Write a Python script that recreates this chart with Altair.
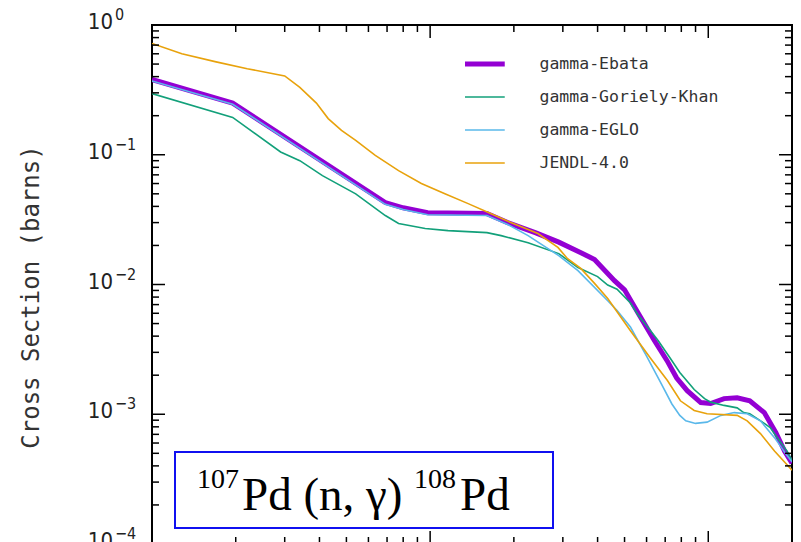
import math

import altair as alt
import pandas as pd

# Neutron capture cross sections for 107Pd(n,g)108Pd, energy in MeV, sigma in barns
ebata_e = [0.1, 0.195, 0.69, 0.8, 0.98, 1.6, 1.9, 2.4, 2.9, 3.5, 3.9, 4.6, 5.0, 5.6,
           6.4, 7.1, 7.7, 8.4, 9.4, 10.2, 11.4, 12.7, 14.1, 15.9, 17.5, 18.8, 20.0]
ebata_xs = [0.38, 0.25, 0.0428, 0.039, 0.0358, 0.0352, 0.030, 0.025, 0.0212, 0.0175,
            0.0156, 0.0107, 0.0091, 0.0060, 0.0037, 0.0026, 0.0019, 0.00152, 0.00123,
            0.00121, 0.00132, 0.00134, 0.00127, 0.00103, 0.00072, 0.00052, 0.00042]

gk_e = [0.1, 0.195, 0.29, 0.34, 0.41, 0.54, 0.69, 0.77, 0.96, 1.16, 1.6, 1.8, 2.25, 2.9,
        3.4, 4.0, 4.35, 4.7, 5.25, 5.6, 6.2, 6.6, 7.3, 7.9, 8.9, 9.7, 10.2, 11.4, 12.7,
        13.4, 14.1, 15.9, 16.7, 17.7, 19.2, 20.0]
gk_xs = [0.296, 0.194, 0.105, 0.090, 0.069, 0.050, 0.034, 0.0295, 0.027, 0.026, 0.0251,
         0.0238, 0.021, 0.0173, 0.0135, 0.0115, 0.0099, 0.0092, 0.0072, 0.0058, 0.0044,
         0.0037, 0.0027, 0.0021, 0.00155, 0.00132, 0.00124, 0.00117, 0.00112, 0.00103,
         0.00101, 0.00085, 0.00079, 0.00066, 0.00052, 0.00044]

eglo_e = [0.1, 0.195, 0.69, 0.8, 0.98, 1.6, 1.9, 2.25, 2.9, 3.4, 4.35, 4.7, 5.25, 6.0,
          6.7, 7.4, 7.9, 8.3, 9.0, 9.9, 11.1, 12.4, 13.8, 15.4, 17.3, 19.2, 20.0]
eglo_xs = [0.37, 0.245, 0.0415, 0.0378, 0.0345, 0.034, 0.029, 0.0238, 0.0167, 0.0128,
           0.0075, 0.0063, 0.0047, 0.0028, 0.0018, 0.0012, 0.00098, 0.00089, 0.00085,
           0.00087, 0.00098, 0.00103, 0.00101, 0.00089, 0.00066, 0.00048, 0.00043]

jendl_e = [0.1, 0.128, 0.17, 0.22, 0.30, 0.34, 0.39, 0.43, 0.48, 0.54, 0.635, 0.77, 0.93,
           1.13, 1.37, 1.65, 1.95, 2.44, 2.88, 3.12, 3.48, 3.9, 4.35, 5.25, 6.2, 7.13,
           7.94, 8.9, 9.9, 12.7, 13.8, 15.4, 17.3, 20.0]
jendl_xs = [0.72, 0.60, 0.52, 0.46, 0.405, 0.33, 0.25, 0.19, 0.154, 0.129, 0.099, 0.0755,
            0.060, 0.050, 0.042, 0.0352, 0.030, 0.0247, 0.0193, 0.0158, 0.0133, 0.0102,
            0.0078, 0.0044, 0.0027, 0.00182, 0.00127, 0.00107, 0.00101, 0.00098, 0.00089,
            0.00071, 0.00052, 0.00037]

series_names = ["gamma-Ebata", "gamma-Goriely-Khan", "gamma-EGLO", "JENDL-4.0"]
series_colors = ["#9400d3", "#12a07a", "#5ab8ea", "#e8a20c"]
y_title = "Cross  Section  (barns)"

# axis ticks
y_major = [1.0, 0.1, 0.01, 0.001, 0.0001]
y_minor = [m * 10.0 ** e for e in range(-4, 0) for m in range(2, 10)]
x_major = [1.0, 10.0]
x_minor = [m * 10.0 ** e for e in (-1, 0) for m in range(2, 10)]
y_grid = [0.1, 0.01, 0.001]
x_grid = [1.0, 10.0]

W, H = 640, 519
MONO = "DejaVu Sans Mono"
NARROW = "Liberation Sans Narrow, DejaVu Sans Condensed, Liberation Sans, sans-serif"

frames = []
for name, es, xs in zip(series_names, [ebata_e, gk_e, eglo_e, jendl_e],
                        [ebata_xs, gk_xs, eglo_xs, jendl_xs]):
    frames.append(pd.DataFrame({"series": name, "energy": es, "xs": xs}))
curves = pd.concat(frames, ignore_index=True)

xscale = alt.Scale(type="log", domain=[0.1, 20], nice=False)
yscale = alt.Scale(type="log", domain=[1e-4, 1], nice=False)

legend = alt.Legend(
    title="\u00a0" * 53,
    titleOrient="bottom",
    titleFont=MONO,
    titleFontSize=10,
    titlePadding=3,
    titleLimit=700,
    orient="none",
    legendX=303,
    legendY=19,
    fillColor="white",
    padding=10,
    clipHeight=20,
    rowPadding=13,
    symbolType="stroke",
    symbolSize=3969,
    symbolStrokeWidth=alt.ExprRef("datum.value === 'gamma-Ebata' ? 5 : 1.6"),
    labelFont=MONO,
    labelFontSize=16.5,
    labelColor="#333333",
    labelOffset=58,
    labelLimit=400,
)

lines = alt.Chart(curves).mark_line(clip=True).encode(
    x=alt.X("energy:Q", scale=xscale,
            axis=alt.Axis(values=x_grid, grid=True, labels=False, ticks=False,
                          domain=False, title=None, gridColor="#c8c8c8", gridWidth=1.6)),
    y=alt.Y("xs:Q", scale=yscale,
            axis=alt.Axis(values=y_grid, grid=True, labels=False, ticks=False,
                          domain=False, title=None, gridColor="#c8c8c8",
                          gridWidth=1.6)),
    color=alt.Color("series:N", scale=alt.Scale(domain=series_names, range=series_colors),
                    sort=series_names, legend=legend),
    strokeWidth=alt.condition("datum.series === 'gamma-Ebata'", alt.value(5),
                              alt.value(1.6)),
    order=alt.Order("energy:Q"),
)


def y_ticks(values, length):
    df = pd.DataFrame({"yv": values})
    base = alt.Chart(df).mark_rule(color="black", strokeWidth=1.5)
    y = alt.Y("yv:Q", scale=yscale, axis=None)
    left = base.encode(y=y, x=alt.value(0), x2=alt.value(length))
    right = base.encode(y=y, x=alt.value(W), x2=alt.value(W - length))
    return [left, right]


def x_ticks(values, length):
    df = pd.DataFrame({"xv": values})
    base = alt.Chart(df).mark_rule(color="black", strokeWidth=1.5)
    x = alt.X("xv:Q", scale=xscale, axis=None)
    top = base.encode(x=x, y=alt.value(0), y2=alt.value(length))
    bottom = base.encode(x=x, y=alt.value(H), y2=alt.value(H - length))
    return [top, bottom]


tick_layers = (y_ticks(y_major, 13) + y_ticks(y_minor, 7)
               + x_ticks(x_major, 13) + x_ticks(x_minor, 7))

# y tick labels as 10 with a raised exponent
exp_df = pd.DataFrame({
    "v": y_major,
    "exp": [str(int(round(math.log10(v)))).replace("-", "\u2212") for v in y_major],
})
base_lbl = alt.Chart(exp_df).mark_text(
    text="10", font=NARROW, fontSize=22, color="#222222", align="right",
    baseline="middle", dy=-3,
).encode(y=alt.Y("v:Q", scale=yscale, axis=None), x=alt.value(-39))
exp_lbl = alt.Chart(exp_df).mark_text(
    font=NARROW, fontSize=16, color="#222222", align="left", baseline="middle", dy=-10,
).encode(y=alt.Y("v:Q", scale=yscale, axis=None), x=alt.value(-37), text="exp:N")

one = pd.DataFrame({"k": [0]})

# rotated y-axis title
title_lbl = alt.Chart(one).mark_text(
    text=y_title, font=MONO, fontSize=24, color="#333333", angle=270,
    align="center", baseline="middle",
).encode(x=alt.value(-120), y=alt.value(272))

# reaction label box
box = alt.Chart(one).mark_rect(fill="white", stroke="#1010f0", strokeWidth=2).encode(
    x=alt.value(23), x2=alt.value(401), y=alt.value(427), y2=alt.value(503))

reaction_parts = [("107", 28, 45, 463), ("Pd (n, \u03b3)", 47, 90, 485),
                  ("108", 28, 262, 463), ("Pd", 47, 308, 485)]
reaction = [
    alt.Chart(one).mark_text(text=t, font="Liberation Serif", fontSize=fs,
                             color="black", align="left", baseline="alphabetic"
                             ).encode(x=alt.value(px), y=alt.value(py))
    for t, fs, px, py in reaction_parts
]

chart = alt.layer(lines, *tick_layers, base_lbl, exp_lbl, title_lbl, box,
                  *reaction).properties(
    width=W,
    height=H,
    autosize=alt.AutoSizeParams(type="none"),
    padding={"left": 152, "top": 25, "right": 9, "bottom": -2},
    background="white",
).configure_view(stroke="black", strokeWidth=2)

chart.save("out.html", embed_options={"renderer": "svg", "actions": False})
